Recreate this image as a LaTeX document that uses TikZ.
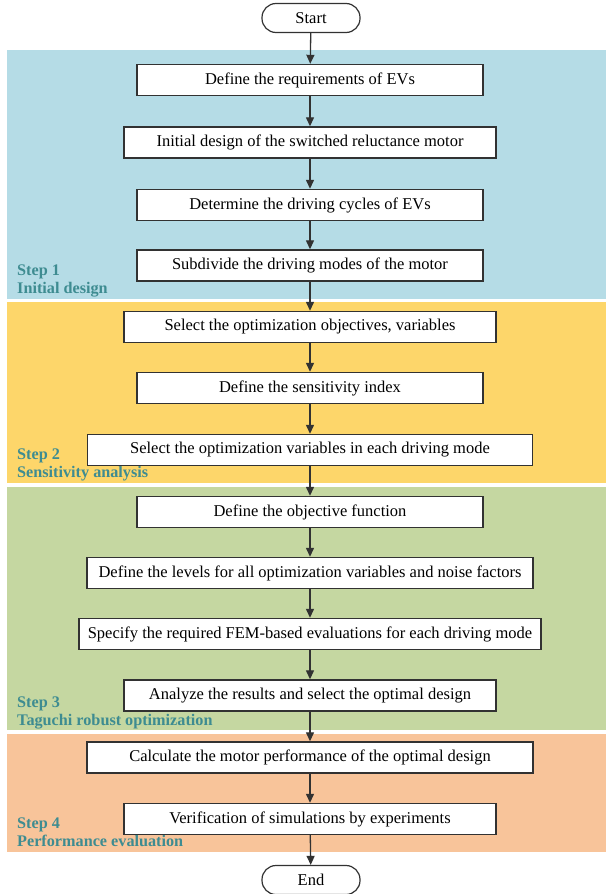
\documentclass[tikz,border=0pt]{standalone}
\usepackage{fontspec}
\setmainfont{Liberation Serif}
\usetikzlibrary{arrows.meta}
\definecolor{pblue}{RGB}{181,220,230}
\definecolor{pyellow}{RGB}{253,214,106}
\definecolor{pgreen}{RGB}{197,215,161}
\definecolor{porange}{RGB}{248,196,154}
\definecolor{steptxt}{RGB}{62,140,145}
\definecolor{edge}{RGB}{50,50,50}
\begin{document}
\begin{tikzpicture}[x=1pt,y=-1pt,
  procbox/.style={draw=edge,line width=1.4pt,fill=white,minimum height=31pt,inner sep=0pt,font=\fontsize{16.5}{18}\selectfont},
  termbox/.style={draw=edge,line width=1.2pt,fill=white,rounded corners=14pt,minimum width=98pt,minimum height=29pt,inner sep=0pt,font=\fontsize{16.5}{18}\selectfont},
  flow/.style={draw=edge,line width=1.3pt,-{Triangle[length=9pt,width=8pt]}},
  steplbl/.style={anchor=base west,inner sep=0pt,text=steptxt,font=\fontsize{16.2}{18}\selectfont\bfseries}
]
\useasboundingbox (0,0) rectangle (606,894);
\fill[white] (0,0) rectangle (606,894);
% panels
\fill[pblue] (7,50) rectangle (606,299);
\fill[pyellow] (7,302) rectangle (606,483);
\fill[pgreen] (7,487) rectangle (606,730);
\fill[porange] (7,734) rectangle (606,852);
% step labels
\node[steplbl] (s1a) at (17,275) {Step 1};
\node[steplbl] (s1b) at (17,293) {Initial design};
\node[steplbl] (s2a) at (17,459) {Step 2};
\node[steplbl] (s2b) at (17,477) {Sensitivity analysis};
\node[steplbl] (s3a) at (17,707) {Step 3};
\node[steplbl] (s3b) at (17,725) {Taguchi robust optimization};
\node[steplbl] (s4a) at (17,828) {Step 4};
\node[steplbl] (s4b) at (17,846) {Performance evaluation};
% nodes
\node[termbox] (start) at (311,18) {Start};
\node[procbox,minimum width=346pt] (b1) at (310,80) {Define the requirements of EVs};
\node[procbox,minimum width=372pt] (b2) at (310,142.5) {Initial design of the switched reluctance motor};
\node[procbox,minimum width=346pt] (b3) at (310,205) {Determine the driving cycles of EVs};
\node[procbox,minimum width=346pt] (b4) at (310,265.5) {Subdivide the driving modes of the motor};
\node[procbox,minimum width=372pt] (b5) at (310,327) {Select the optimization objectives, variables};
\node[procbox,minimum width=346pt] (b6) at (310,388) {Define the sensitivity index};
\node[procbox,minimum width=445pt] (b7) at (310,450) {Select the optimization variables in each driving mode};
\node[procbox,minimum width=346pt] (b8) at (310,512) {Define the objective function};
\node[procbox,minimum width=446pt] (b9) at (310,573) {Define the levels for all optimization variables and noise factors};
\node[procbox,minimum width=462pt] (b10) at (310,634) {Specify the required FEM-based evaluations for each driving mode};
\node[procbox,minimum width=372pt] (b11) at (310,695.5) {Analyze the results and select the optimal design};
\node[procbox,minimum width=446pt] (b12) at (310,757.5) {Calculate the motor performance of the optimal design};
\node[procbox,minimum width=372pt] (b13) at (310,819) {Verification of simulations by experiments};
\node[termbox] (end) at (311,880) {End};
% connectors
\draw[flow] (start) -- (b1);
\draw[flow] (b1) -- (b2);
\draw[flow] (b2) -- (b3);
\draw[flow] (b3) -- (b4);
\draw[flow] (b4) -- (b5);
\draw[flow] (b5) -- (b6);
\draw[flow] (b6) -- (b7);
\draw[flow] (b7) -- (b8);
\draw[flow] (b8) -- (b9);
\draw[flow] (b9) -- (b10);
\draw[flow] (b10) -- (b11);
\draw[flow] (b11) -- (b12);
\draw[flow] (b12) -- (b13);
\draw[flow] (b13) -- (end);
\end{tikzpicture}
\end{document}
